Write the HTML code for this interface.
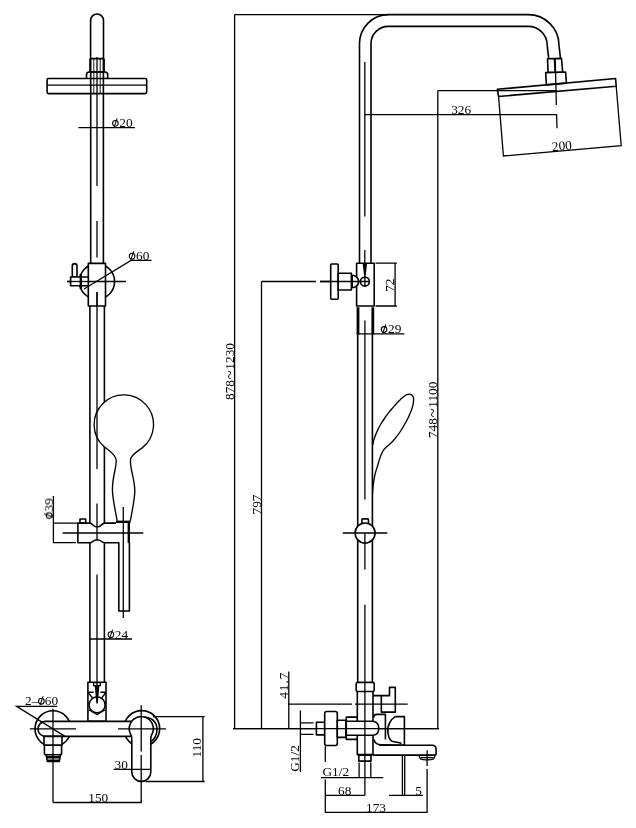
<!DOCTYPE html>
<html><head><meta charset="utf-8">
<style>
html,body{margin:0;padding:0;background:#fff;}
body{width:636px;height:828px;overflow:hidden;}
svg{display:block;}
text{font-family:"Liberation Serif",serif;font-size:13.3px;letter-spacing:0px;fill:#000;}
.o{fill:none;stroke:#000;stroke-width:1.6;stroke-linecap:butt;stroke-linejoin:round;}
.w{fill:#fff;stroke:#000;stroke-width:1.6;stroke-linejoin:round;}
.d{fill:none;stroke:#000;stroke-width:1.3;}
.c{fill:none;stroke:#000;stroke-width:1.35;stroke-linejoin:round;}
.cw{fill:#fff;stroke:#000;stroke-width:1.35;stroke-linejoin:round;}
.t{fill:none;stroke:#000;stroke-width:2.4;}
</style></head><body>
<svg width="636" height="828" viewBox="0 0 636 828">
<rect width="636" height="828" fill="#fff"/>
<defs><g id="phi"><ellipse cx="3.1" cy="-3.8" rx="2.8" ry="2.9" fill="none" stroke="#000" stroke-width="1.1"/><path d="M1.6,0.4 L4.8,-8.8" fill="none" stroke="#000" stroke-width="1.05"/></g></defs>

<!-- ================= LEFT VIEW ================= -->
<g id="left">
<!-- top stub pipe -->
<path class="o" d="M90.6,58.4 V20.5 A6.45,6.45 0 0 1 103.5,20.5 V58.4"/>
<!-- nut -->
<rect class="o" x="90" y="58.6" width="14.1" height="13.4" rx="1"/>
<path d="M93.8,59 V93.5 M100.2,59 V93.5" fill="none" stroke="#000" stroke-width="0.9"/>
<!-- flange -->
<path class="o" d="M86.5,78.5 V74.7 Q86.5,72 89.2,72 H105 Q107.7,72 107.7,74.7 V78.5"/>
<!-- head plate -->
<rect class="o" x="47.1" y="78.5" width="99.6" height="15.1" rx="1.5"/>
<path class="d" d="M47.1,85.2 H146.7"/>
<!-- upper pipe -->
<path class="o" d="M90.7,58.4 V263.4 M103.4,58.4 V263.4"/>
<!-- phi20 -->
<path class="d" d="M78.5,127.6 H135"/>

<!-- bracket -->
<circle class="o" cx="97" cy="281.5" r="17.6"/>
<rect class="w" x="88.3" y="263.4" width="17.2" height="42.6"/>
<path class="d" d="M97,292 V306"/>
<path class="d" d="M67,281.5 H126"/>
<path class="d" d="M84,289 L131,260.4 H151.5"/>
<!-- lever -->
<path class="w" d="M72.3,277 V266 A2.35,2.35 0 0 1 77,266 V277 Z"/>
<rect class="w" x="70.6" y="277" width="17.7" height="8.8"/>
<path class="t" d="M80.8,274 V289"/>
<path class="d" d="M67,281.5 H90"/>

<!-- lower pipe -->
<path class="o" d="M89.9,306 V523.1 M89.9,542.7 V682.2 M104.4,306 V523.1 M104.4,542.7 V682.2"/>

<!-- hand shower -->
<path class="cw" d="M117.2,520.9 C115.5,512 113,500 112.5,491.9 C112,484 113.5,477 115,470 C116.5,463 116.8,460 115.6,458 C113.5,453 108.5,450 103.9,446.6 A29.7,29.7 0 1 1 142.2,447.9 C137.5,451 133,454 130.9,458 C129.8,461 130.3,464 131.5,470 C132.8,477 135,484 134.8,491.9 C134.5,500 132,512 130.3,520.9"/>
<path class="t" d="M116,521.8 H130.6"/>
<!-- slider -->
<path class="o" d="M116,523.1 H104.4 C102.5,523.1 100.5,526.8 98.5,526.8 H96 C94,526.8 92,523.1 89.9,523.1 H77.9 V542.7 H89.9 C92,542.7 94,540 96,540 H98.5 C100.5,540 102.5,542.7 104.4,542.7 H118.8 V611 H129.4 V542.7"/>
<rect class="o" x="80" y="519" width="5.7" height="4.1"/>
<!-- hose -->
<path class="t" d="M128.8,523 V543"/>
<path class="d" d="M123.3,507 V618"/>
<path class="d" d="M62.6,533 H143.3"/>
<!-- phi39 -->
<path class="d" d="M53.4,496 V542.7 M53,523.1 H77.9 M53,542.7 H76"/>
<!-- phi24 -->
<path class="d" d="M89.9,639 H132"/>

<!-- coupling -->
<rect class="w" x="87.9" y="682.2" width="18.1" height="39.2"/>
<path class="o" d="M87.9,692.2 H93.6 M100.4,692.2 H106"/>
<rect class="d" x="93.6" y="682.6" width="6.8" height="3"/>
<circle class="o" cx="97.1" cy="704.9" r="8"/>
<path d="M94.7,685.5 H99.4 L97.8,703.5 H96.4 Z" fill="#000"/>
<path class="d" d="M88.5,693 L92.5,698 M105.5,693 L101.7,698 M88.8,709.8 L97.1,714.6 L105.3,709.8"/>

<!-- flanges -->
<circle class="o" cx="53" cy="728.8" r="18"/>
<circle class="o" cx="141.7" cy="728.6" r="18"/>
<!-- body bar -->
<path class="w" d="M134,721.4 H45.5 A7.5,7.5 0 0 0 45.5,736.4 H134"/>
<!-- left nut -->
<path class="w" d="M44,736.4 H62 V745.3 H44 Z"/>
<path class="w" d="M44.4,745.3 H61.6 V753 Q61.6,754.8 60,754.8 H46 Q44.4,754.8 44.4,753 Z"/>
<path class="w" d="M46.2,754.8 H60.4 L59.3,761.5 H47.4 Z"/>
<path class="t" d="M47,757.3 H59.8 M47.4,760.6 H59.3" stroke-width="2"/>
<!-- handle -->
<path class="w" d="M131.8,771.9 V738.5 Q131.8,736.8 131,735 A12.1,12.1 0 1 1 151.6,735 Q150.8,736.8 150.8,738.5 V771.9 A9.5,9.5 0 0 1 131.8,771.9 Z"/>
<path class="o" d="M144,717.2 C152,717 157,722.5 157,729 C157,735 154,739.5 150.8,741.8"/>
<!-- centre lines -->
<path class="d" d="M29.8,728.9 H76 M118,728.9 H166"/>
<path class="d" d="M53,708.7 V802.5 M141.2,705.3 V751.5 M141.2,755 V802.5"/>
<!-- 2-phi60 -->
<path class="d" d="M57.2,706.3 H16.6 L65,736.4"/>
<!-- 110 -->
<path class="d" d="M153,716.6 H204.7 M145.5,781.5 H204.7 M202.9,716.6 V781.5"/>
<!-- 30 -->
<path class="d" d="M113.6,769.4 H150.6"/>
<!-- 150 -->
<path class="d" d="M53.2,802.5 H141.8"/>
<!-- centre line -->
<path class="d" d="M97,57 V186 M97,221 V257.5 M97,292 V469 M97,503.5 V540 M97,574.5 V690"/>
</g>

<!-- ================= RIGHT VIEW ================= -->
<g id="right">
<!-- overall dims -->
<path class="d" d="M234.6,14.6 H388 M234.6,14.6 V728.7 M233,728.7 H438.9"/>
<path class="d" d="M261.5,281.5 V728.7 M261.5,281.5 H316 M320,281.5 H368"/>
<path class="d" d="M437.8,90.6 V728.7 M437.8,90.6 H557"/>

<!-- main pipe with arc -->
<path class="o" d="M359.5,263.2 V43.5 A29,29 0 0 1 388.5,14.6 H528.3 A30.7,30.7 0 0 1 559,45.3 L560.5,58.6"/>
<path class="o" d="M371,263.2 V43.5 A17.3,17.3 0 0 1 388.3,26.4 H528.3 A18.9,18.9 0 0 1 547.2,45.3 L548.7,58.6"/>
<path class="d" d="M364.8,62 V216.5 M364.8,250 V264"/>
<!-- nut and flange of head -->
<path class="w" d="M547.5,58.7 L561.5,58.4 L562.7,72.2 L548.1,72.5 Z"/>
<path class="d" d="M554.3,58.6 L555,72.4"/>
<path class="w" d="M545.7,72.6 L565.6,72 L566.4,83.1 L546.4,84.9 Z"/>
<!-- head plate -->
<path class="o" d="M497.4,89.3 L615.6,78.5 L616.2,86.2 L498.6,96.5 Z" stroke-width="1.8"/>
<path class="d" d="M555.2,57.9 L556.4,105 M556.6,114.3 L557,128.3"/>
<!-- 326 -->
<path class="d" d="M365,114.6 H556.5"/>
<!-- 200 -->
<path class="d" d="M498.6,96.9 L503.4,156 L621.2,145.6 L616.2,86.2"/>

<!-- wall bracket -->
<rect class="w" x="356.6" y="263.2" width="17.6" height="42.8"/>
<rect class="w" x="330.7" y="264" width="7.5" height="35.2" rx="1"/>
<rect class="w" x="338.2" y="273.3" width="13.2" height="16.7"/>
<path class="w" d="M352.2,275.5 H354 Q358.6,277.5 358.6,281.5 Q358.6,285.5 354,287.5 H352.2 Z"/>
<circle class="w" cx="364.9" cy="281.6" r="4.5"/>
<path class="d" d="M320,281.5 H369.5 M364.9,277 V286.2"/>
<path d="M362.7,264 H367 L365.5,277.5 H364.4 Z" fill="#000"/>
<!-- 72 -->
<path class="d" d="M375.5,263.2 H396.9 M375.5,306 H396.9 M395.1,263.2 V306"/>
<!-- thick sleeve -->
<path d="M358,307.3 V334.6 M372.8,307.3 V334.6" fill="none" stroke="#000" stroke-width="2.8"/>
<path class="d" d="M356.6,333.9 H404.4"/>
<!-- lower pipe -->
<path class="o" d="M357.7,334.4 V682.4 M372.4,334.4 V682.4"/>
<path class="d" d="M364.9,320.5 V499.6 M364.9,543 V569.6 M364.9,604.8 V700"/>
<!-- hand shower side -->
<path class="c" d="M372.6,445.5 C372.9,444.2 373.5,440.6 374.4,438.0 C375.3,435.4 376.7,432.1 377.9,429.6 C379.1,427.1 380.2,425.1 381.5,423.0 C382.8,420.9 384.4,418.6 385.7,416.7 C387.0,414.8 388.2,413.2 389.5,411.6 C390.8,410.0 392.3,408.4 393.6,406.9 C394.9,405.4 396.2,403.9 397.5,402.5 C398.8,401.1 400.3,399.7 401.4,398.6 C402.5,397.6 403.4,396.9 404.3,396.2 C405.2,395.5 406.1,395.0 406.9,394.7 C407.7,394.4 408.6,394.1 409.3,394.1 C410.0,394.1 410.7,394.3 411.2,394.6 C411.7,394.9 412.1,395.4 412.5,395.9 C412.9,396.4 413.2,396.9 413.4,397.5 C413.6,398.1 413.6,398.6 413.6,399.4 C413.6,400.2 413.5,401.4 413.4,402.5 C413.3,403.6 413.1,404.4 412.8,405.7 C412.5,407.0 411.9,408.9 411.3,410.5 C410.7,412.1 410.0,413.6 409.3,415.2 C408.6,416.8 407.8,418.6 406.9,420.3 C406.0,422.0 405.1,423.6 404.2,425.2 C403.3,426.8 402.4,428.3 401.3,430.0 C400.2,431.7 399.0,433.5 397.7,435.2 C396.4,436.9 395.0,438.7 393.7,440.2 C392.4,441.7 390.9,443.0 389.6,444.2 C388.3,445.4 387.0,446.3 385.9,447.4 C384.8,448.4 383.9,449.4 383.2,450.5 C382.5,451.6 382.1,452.7 381.5,454.1 C380.9,455.5 380.2,457.2 379.7,458.8 C379.1,460.4 378.7,462.2 378.2,463.8 C377.7,465.4 377.2,467.0 376.7,468.6 C376.2,470.2 375.7,471.7 375.3,473.4 C374.9,475.1 374.5,476.9 374.2,478.7 C373.9,480.5 373.6,482.3 373.4,484.0 C373.2,485.7 372.9,487.3 372.8,489.0 C372.7,490.7 372.6,493.2 372.5,494.0"/>
<!-- slider circle -->
<rect class="w" x="361.9" y="518.9" width="6.6" height="4.8" rx="0.8"/>
<circle class="w" cx="365.1" cy="533" r="10"/>
<path class="d" d="M342.8,533 H387.3 M364.9,533 V543.5"/>
</g>

<!-- ================= FAUCET (right bottom) ================= -->
<g id="faucet">
<!-- 41.7 -->
<!-- G1/2 vertical -->
<path class="d" d="M300.4,710.4 V772 M300.4,722.8 H313.6 M300.4,734.3 H313.6"/>
<!-- stub + escutcheon -->
<rect class="w" x="316.4" y="722.3" width="8.3" height="12.6"/>
<rect class="w" x="324.7" y="711.5" width="12.6" height="34" rx="2"/>
<rect class="w" x="337.3" y="720.3" width="8.5" height="17.1"/>
<!-- column -->
<path class="w" d="M357.3,691.5 V754.6 H373 V691.5"/>
<rect class="w" x="356.2" y="682.4" width="18" height="9.1" rx="1.5"/>
<!-- diverter -->
<path class="w" d="M373,695.6 H389.5 V687.4 H395.3 V712.1 H381.3 V695.6"/>
<!-- cartridge box -->
<rect class="w" x="346.3" y="717.1" width="10.9" height="22.3"/>
<path class="w" d="M346.3,721.2 H373 Q378.8,722 378.8,728.2 Q378.8,734.5 373,735.3 H346.3 Z"/>
<!-- lever -->
<path class="o" d="M373.8,717.5 Q373.8,714.4 377,714.4 H385.4 V739.5"/>
<path class="o" d="M373.8,739.4 Q375,744.6 381,744.8 L404.4,745.2 V716.6 H395.3 C391,719 386.5,726 388,733 C388.6,737 389,740 392,741.3 C396,742.5 399,742 401.5,743.5"/>
<!-- spout -->
<path class="o" d="M379,745.2 H432 Q436.1,745.2 436.1,749 V754.2 Q436.1,755.1 434.5,755.1 H373"/>
<path class="cw" d="M419.4,755.3 H434.6 Q435.4,757.4 433.6,758.8 Q431,760 427,759.8 Q423,760 420.4,758.8 Q418.6,757.4 419.4,755.3 Z"/>
<path class="d" d="M420.5,757.6 H433.5" stroke-width="1.4"/>
<!-- outlet -->
<rect class="w" x="358.8" y="755.3" width="12.2" height="5.8"/>
<path class="d" d="M359.1,762.5 V777.7 M370.8,762.5 V777.7"/>
<!-- lift rod -->
<path class="d" d="M402.4,755.1 V795.3 M404.7,755.1 V795.3"/>
<!-- centre lines -->
<path class="d" d="M364.9,682 V795.3 M427.1,750.2 V766 M427.1,769 V812.8 M325.3,746.3 V762 M325.3,779.5 V812.8"/>
<!-- G1/2 horizontal -->
<path class="d" d="M321,777.6 H383.3"/>
<!-- 68 -->
<path class="d" d="M325.3,795.3 H364.9"/>
<!-- 5 -->
<path class="d" d="M389,795.3 H423"/>
<!-- 173 -->
<path class="d" d="M325.3,812.4 H427.2"/>
</g>

<g id="overlay">
<path class="d" d="M288.8,671.5 V728.7 M288,704.2 H352 M355,704.2 H407.7"/>
<path class="d" d="M233,728.7 H438.9"/>
</g>
<g id="texts" style="opacity:0.999">
<use href="#phi" x="112.3" y="127.2"/><text x="119.3" y="127.2">20</text>
<use href="#phi" x="129" y="260"/><text x="136" y="260">60</text>
<g transform="translate(53,518.6) rotate(-90)"><use href="#phi"/><text x="7" y="0">39</text></g>
<use href="#phi" x="107.8" y="638.5"/><text x="114.8" y="638.5">24</text>
<text x="25" y="705">2–</text><use href="#phi" x="38.3" y="705"/><text x="44.8" y="705">60</text>
<text transform="translate(201,757.5) rotate(-90)">110</text>
<text x="114.5" y="768.5">30</text>
<text x="88.3" y="801.8">150</text>
<text transform="translate(234,400) rotate(-90)">878<tspan dx="0.6" dy="0.8" font-size="17px">~</tspan><tspan dx="0.6" dy="-0.8">1230</tspan></text>
<text transform="translate(261,514.5) rotate(-90)">797</text>
<text transform="translate(437.4,438.1) rotate(-90)">748<tspan dx="0.6" dy="0.8" font-size="17px">~</tspan><tspan dx="0.6" dy="-0.8">1100</tspan></text>
<text x="451.2" y="113.9">326</text>
<text transform="translate(562.3,150.3) rotate(-5.2)" text-anchor="middle">200</text>
<text transform="translate(393.8,291.8) rotate(-90)">72</text>
<use href="#phi" x="381" y="333.3"/><text x="388" y="333.3">29</text>
<text transform="translate(287.9,698.8) rotate(-90)" textLength="26.2" lengthAdjust="spacing">41.7</text>
<text transform="translate(298.6,771.8) rotate(-90)">G1/2</text>
<text x="322.5" y="776">G1/2</text>
<text x="338" y="794.6">68</text>
<text x="415.3" y="794.6">5</text>
<text x="366" y="811.6">173</text>
</g>
</svg>
</body></html>
